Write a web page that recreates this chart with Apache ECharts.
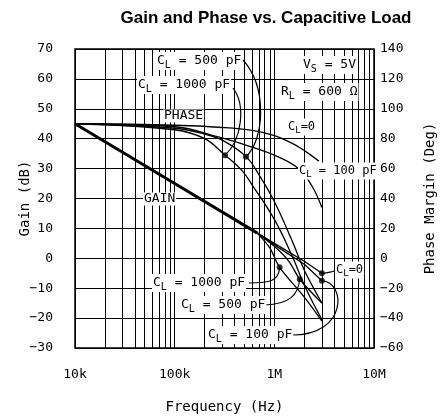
<!DOCTYPE html>
<html><head><meta charset="utf-8">
<script src="https://cdn.jsdelivr.net/npm/echarts/dist/echarts.min.js"></script>
<style>html,body{margin:0;padding:0;background:#fff}#c{width:445px;height:419px}</style>
</head><body><div id="c"></div>
<script>
// ---- tick labels ----
const xTickValues = [1e4, 1e5, 1e6, 1e7];
const xTickLabels = ['10k', '100k', '1M', '10M'];
const minorMultipliers = [2, 3, 4, 5, 6, 7, 8, 9];

// ---- gain curves (dB) ----
const gainCommonF = [1e4, 1e5, 6.7e5];
const gainCommon  = [45, 25, 8.5];
const gainCL0F  = [6.7e5, 1e6, 2e6, 3e6];
const gainCL0   = [8.5, 5, -1, -5];
const gainCL100F = [6.7e5, 1e6, 2e6, 3e6];
const gainCL100  = [8.5, 4.5, -2, -7.5];
const gainCL500F = [6.7e5, 1e6, 1.4e6, 1.8e6, 3e6];
const gainCL500  = [8.5, 4, -1, -7, -15];
const gainCL1000F = [6.7e5, 9e5, 1.13e6, 2e6, 3e6];
const gainCL1000  = [8.5, 3.5, -3, -13, -21];

// ---- phase curves (deg) ----
const phCL0F = [1e4, 1e5, 3e5, 6e5, 1e6, 1.5e6, 2e6, 2.8e6];
const phCL0  = [90, 89, 87.5, 85.5, 82, 77, 72, 65];
const phCL100F = [1e4, 1e5, 2.8e5, 5e5, 1e6, 1.75e6, 2.4e6, 3e6];
const phCL100  = [90, 88, 81, 76, 69, 60, 48, 34];
const phCL500F = [1e4, 1e5, 2e5, 3e5, 5.2e5, 7e5, 1e6, 1.5e6, 2e6, 3e6];
const phCL500  = [90, 87, 83, 79, 68, 56, 38, 12, -8, -30];
const phCL1000F = [1e4, 1e5, 2e5, 3.2e5, 4.7e5, 6e5, 1e6, 1.5e6, 2e6, 3e6];
const phCL1000  = [90, 86, 80, 69, 59, 49, 26, 2, -18, -41];

// ---- marked dots [freq, value, yAxisIndex] ----
const dotPhase1000 = [3.2e5, 69, 1];
const dotPhase500  = [5.2e5, 68, 1];
const dotGain1000  = [1.13e6, -3, 0];
const dotGain500   = [1.8e6, -7, 0];
const dotGain100   = [3e6, -7.5, 0];
const dotGain0     = [3e6, -5, 0];
const dots = [dotPhase1000, dotPhase500, dotGain1000, dotGain500, dotGain100, dotGain0];

const zip = (f, v) => f.map((x, i) => [x, v[i]]);
const MONO = '"DejaVu Sans Mono", monospace';

const chart = echarts.init(document.getElementById('c'), null, {renderer: 'canvas'});

const minorLines = [];
[1e4, 1e5, 1e6].forEach(d => minorMultipliers.forEach(m => minorLines.push({xAxis: d * m})));

function curve(data, yi, w, smooth) {
  return {type: 'line', data, yAxisIndex: yi, showSymbol: false, symbol: 'none',
    smooth: smooth || 0, lineStyle: {color: '#000', width: w}, z: 5, silent: true};
}

const option = {
  animation: false,
  backgroundColor: '#fff',
  grid: {left: 75, right: 69, top: 49, bottom: 69, show: true, borderColor: '#000', borderWidth: 1.5, backgroundColor: 'transparent'},
  xAxis: {
    type: 'log', logBase: 10, min: 1e4, max: 1e7,
    name: 'Frequency (Hz)', nameLocation: 'middle', nameGap: 52, nameMoveOverlap: false,
    nameTextStyle: {fontFamily: MONO, fontSize: 14, color: '#000'},
    axisLine: {show: false}, axisTick: {show: false},
    axisLabel: {fontFamily: MONO, fontSize: 13, color: '#000', margin: 20,
      formatter: v => { const i = xTickValues.findIndex(t => Math.abs(t - v) / t < 1e-6); return i >= 0 ? xTickLabels[i] : ''; }},
    splitLine: {show: true, lineStyle: {color: '#000', width: 1}}
  },
  yAxis: [
    {type: 'value', min: -30, max: 70, interval: 10,
      name: 'Gain (dB)', nameLocation: 'middle', nameGap: 43, nameRotate: 90, nameMoveOverlap: false,
      nameTextStyle: {fontFamily: MONO, fontSize: 14, color: '#000'},
      axisLine: {show: false}, axisTick: {show: false},
      axisLabel: {fontFamily: MONO, fontSize: 13, color: '#000', margin: 22, formatter: v => String(v).replace('-', '\u2212')},
      splitLine: {show: true, lineStyle: {color: '#000', width: 1}}},
    {type: 'value', min: -60, max: 140, interval: 20, position: 'right',
      name: 'Phase Margin (Deg)', nameLocation: 'middle', nameGap: 49, nameRotate: 90, nameMoveOverlap: false,
      nameTextStyle: {fontFamily: MONO, fontSize: 14, color: '#000'},
      axisLine: {show: false}, axisTick: {show: false},
      axisLabel: {fontFamily: MONO, fontSize: 13, color: '#000', margin: 6, formatter: v => String(v).replace('-', '\u2212')},
      splitLine: {show: false}}
  ],
  series: [
    {type: 'line', data: [], markLine: {silent: true, symbol: 'none', label: {show: false},
      lineStyle: {color: '#000', width: 1, type: 'solid'}, data: minorLines}, z: 1},
    curve(zip(gainCommonF, gainCommon), 0, 3),
    curve(zip(gainCL0F, gainCL0), 0, 1.3),
    curve(zip(gainCL100F, gainCL100), 0, 1.3),
    curve(zip(gainCL500F, gainCL500), 0, 1.3, 0.3),
    curve(zip(gainCL1000F, gainCL1000), 0, 1.3, 0.3),
    curve(zip(phCL0F, phCL0), 1, 1.3, 0.4),
    curve(zip(phCL100F, phCL100), 1, 1.3, 0.4),
    curve(zip(phCL500F, phCL500), 1, 1.3, 0.4),
    curve(zip(phCL1000F, phCL1000), 1, 1.3, 0.4),
    {type: 'scatter', yAxisIndex: 0, data: dots.filter(d => d[2] === 0).map(d => [d[0], d[1]]), symbolSize: 6, itemStyle: {color: '#000'}, z: 20, silent: true},
    {type: 'scatter', yAxisIndex: 1, data: dots.filter(d => d[2] === 1).map(d => [d[0], d[1]]), symbolSize: 6, itemStyle: {color: '#000'}, z: 20, silent: true}
  ]
};
chart.setOption(option);

// ---- annotations ----
function mkRich(fs) {
  return {
    a: {fontFamily: MONO, fontSize: fs, color: '#000'},
    b: {fontFamily: MONO, fontSize: fs - 3, color: '#000', padding: [8, 0, 0, 0]}
  };
}
function lbl(x, y, text, fs) {
  fs = fs || 13;
  return {type: 'text', x, y, z: 100, silent: true,
    style: {text, rich: mkRich(fs), font: fs + 'px ' + MONO, fill: '#000', align: 'left', verticalAlign: 'middle',
      backgroundColor: '#fff', padding: [0, 1, 0, 1]}};
}
function px(d) { return chart.convertToPixel({xAxisIndex: 0, yAxisIndex: d[2]}, [d[0], d[1]]); }
function bez(p0, c1, c2, p3) {
  return {type: 'bezierCurve', z: 90, silent: true,
    shape: {x1: p0[0], y1: p0[1], cpx1: c1[0], cpy1: c1[1], cpx2: c2[0], cpy2: c2[1], x2: p3[0], y2: p3[1]},
    style: {stroke: '#000', lineWidth: 1.2, fill: null}};
}
const pP1000 = px(dotPhase1000), pP500 = px(dotPhase500), pG1000 = px(dotGain1000),
      pG500 = px(dotGain500), pG100 = px(dotGain100), pG0 = px(dotGain0);

const graphics = [
  {type: 'text', x: 266, y: 18, z: 100, silent: true,
    style: {text: 'Gain and Phase vs. Capacitive Load', font: 'bold 17px "Liberation Sans", Arial, sans-serif', fill: '#000', align: 'center', verticalAlign: 'middle'}},
  bez([243, 60], [268, 88], [264, 140], pP500),
  bez([233, 88], [246, 105], [242, 140], pP1000),
  bez([249, 283], [270, 283], [279, 281], pG1000),
  bez([265, 305], [290, 304], [298, 295], pG500),
  bez([292, 335], [348, 335], [346, 282], pG100),
  bez([335, 271], [330, 272], [328, 273], pG0),
  lbl(156, 61, '{a|C}{b|L}{a| = 500 pF}'),
  lbl(137, 85, '{a|C}{b|L}{a| = 1000 pF}'),
  lbl(163, 116, '{a|PHASE}'),
  lbl(302, 65, '{a|V}{b|S}{a| = 5V}'),
  lbl(280, 92, '{a|R}{b|L}{a| = 600\u2009\u03A9}'),
  lbl(287, 127, '{a|C}{b|L}{a|=0}', 12),
  lbl(298, 171, '{a|C}{b|L}{a| = 100 pF}', 12),
  lbl(143, 199, '{a|GAIN}'),
  lbl(152, 283, '{a|C}{b|L}{a| = 1000 pF}'),
  lbl(180, 305, '{a|C}{b|L}{a| = 500 pF}'),
  lbl(207, 335, '{a|C}{b|L}{a| = 100 pF}'),
  lbl(335, 270, '{a|C}{b|L}{a|=0}', 12)
];
chart.setOption({graphic: graphics});
</script></body></html>
